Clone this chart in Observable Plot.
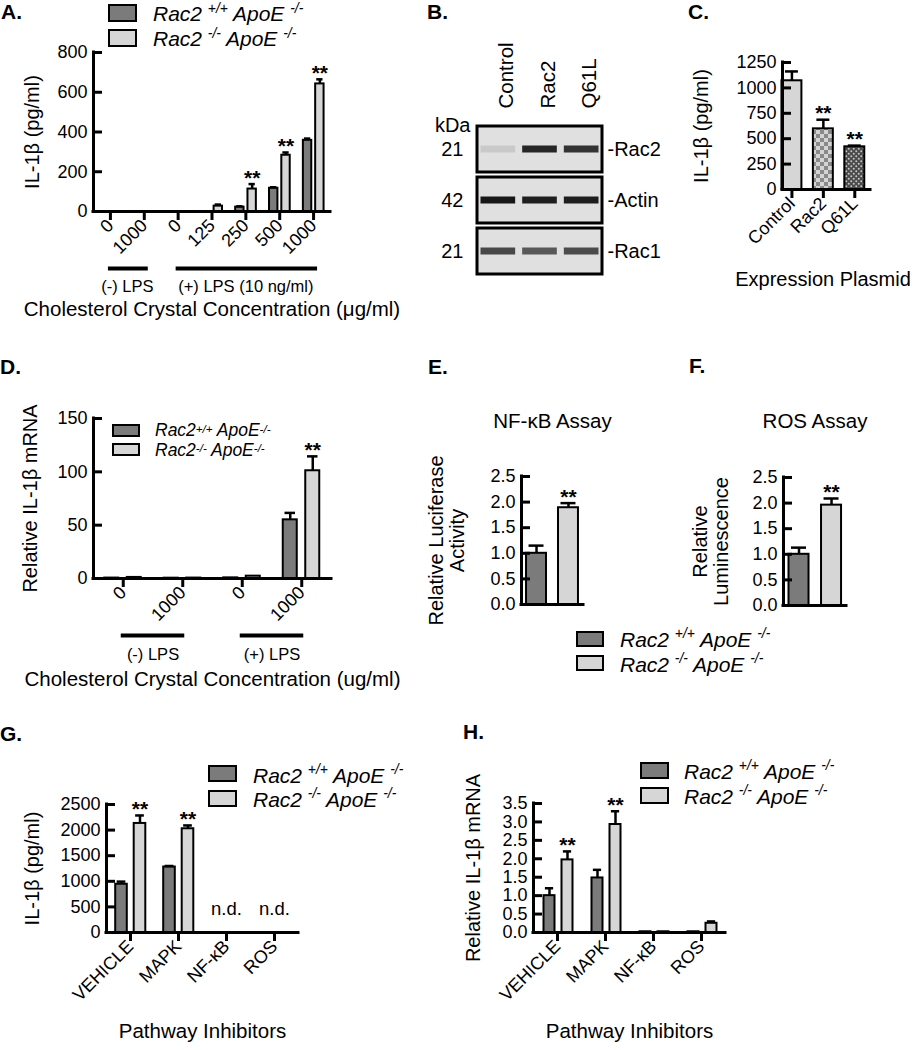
<!DOCTYPE html>
<html><head><meta charset="utf-8">
<script src="https://cdn.jsdelivr.net/npm/d3@7"></script>
<script src="https://cdn.jsdelivr.net/npm/@observablehq/plot@0.6"></script>
<style>
body{margin:0;background:#fff;}
#fig{position:relative;width:914px;height:1050px;font-family:"Liberation Sans",Arial,Helvetica,sans-serif;color:#000;overflow:hidden;background:#fff;}
.plab{position:absolute;font-weight:bold;font-size:21px;line-height:21px;white-space:nowrap;}
.sw{position:absolute;border:2.5px solid #000;box-sizing:border-box;}
.lt{position:absolute;font-style:italic;white-space:nowrap;}
.lt sup{font-size:0.66em;vertical-align:0;position:relative;line-height:0;}
</style></head><body><div id="fig"></div>
<script>
// ---------------- data ----------------
const seriesNames = ["Rac2 +/+ ApoE -/-", "Rac2 -/- ApoE -/-"];

// Panel A
const aCategories = ["0", "1000", "0", "125", "250", "500", "1000"];
const aGroups = [{label: "(-) LPS", from: 0, to: 1}, {label: "(+) LPS (10 ng/ml)", from: 2, to: 6}];
const aWT = [0, 0, 0, 0, 22, 117, 358];
const aWTErr = [0, 0, 0, 0, 4, 5, 9];
const aKO = [0, 0, 0, 27, 113, 283, 642];
const aKOErr = [0, 0, 0, 8, 25, 14, 23];
const aSig = [false, false, false, false, true, true, true];
const aTicks = [0, 200, 400, 600, 800];
const aYTitle = "IL-1β (pg/ml)";
const aXTitle = "Cholesterol Crystal Concentration (μg/ml)";

// Panel B (western blot)
const blotLanes = ["Control", "Rac2", "Q61L"];
const blotProteins = ["Rac2", "Actin", "Rac1"];
const blotKDa = ["21", "42", "21"];
const blotIntensity = [[0.1, 0.88, 0.82], [0.95, 0.92, 0.92], [0.72, 0.64, 0.7]];

// Panel C
const cPlasmids = ["Control", "Rac2", "Q61L"];
const cValues = [1070, 597, 420];
const cErr = [92, 90, 12];
const cSig = [false, true, true];
const cTicks = [0, 250, 500, 750, 1000, 1250];
const cXTitle = "Expression Plasmid";

// Panel D
const dCategories = ["0", "1000", "0", "1000"];
const dGroups = [{label: "(-) LPS", from: 0, to: 1}, {label: "(+) LPS", from: 2, to: 3}];
const dWT = [0.4, 0.3, 0.6, 55];
const dWTErr = [0, 0, 0, 6.5];
const dKO = [1.0, 0.4, 2.2, 101];
const dKOErr = [0, 0, 0, 13.5];
const dSig = [false, false, false, true];
const dTicks = [0, 50, 100, 150];
const dYTitle = "Relative IL-1β mRNA";
const dXTitle = "Cholesterol Crystal Concentration (ug/ml)";

// Panels E and F
const eValues = [1.0, 1.89];
const eErr = [0.15, 0.09];
const eSig = [false, true];
const fValues = [1.0, 1.96];
const fErr = [0.13, 0.13];
const fSig = [false, true];
const efTicks = [0, 0.5, 1.0, 1.5, 2.0, 2.5];
const eTitle = "NF-κB Assay";
const fTitle = "ROS Assay";
const eYTitle = "Relative Luciferase\nActivity";
const fYTitle = "Relative\nLuminescence";

// Panels G and H
const ghCategories = ["VEHICLE", "MAPK", "NF-κB", "ROS"];
const gWT = [942, 1279, 0, 0];
const gWTErr = [52, 20, 0, 0];
const gKO = [2130, 2026, 0, 0];
const gKOErr = [156, 65, 0, 0];
const gSig = [true, true, false, false];
const gND = [false, false, true, true];
const gTicks = [0, 500, 1000, 1500, 2000, 2500];
const hWT = [1.0, 1.48, 0.02, 0.02];
const hWTErr = [0.2, 0.22, 0, 0];
const hKO = [1.97, 2.93, 0.02, 0.25];
const hKOErr = [0.23, 0.36, 0, 0.05];
const hSig = [true, true, false, false];
const hTicks = [0, 0.5, 1.0, 1.5, 2.0, 2.5, 3.0, 3.5];
const ghXTitle = "Pathway Inhibitors";

// ---------------- helpers ----------------
const fig = document.getElementById("fig");
const FONT = '"Liberation Sans", Arial, Helvetica, sans-serif';
const DARK = "#7b7b7b", LIGHT = "#d6d6d6";
const TICKFS = 18;
const baseStyle = {fontFamily: FONT, fontSize: "18px", background: "transparent", overflow: "visible", color: "black"};
const intFmt = d => String(d);
const decFmt = d3.format(".1f");

function place(svg, left, top) {
  svg.style.position = "absolute";
  svg.style.left = left + "px";
  svg.style.top = top + "px";
  svg.style.overflow = "visible";
  svg.style.background = "transparent";
  svg.style.maxWidth = "none";
  fig.appendChild(svg);
  return svg;
}

function axesMarks(xMin, yTicks, yFmt) {
  return [
    Plot.ruleY(yTicks, {y: d => d, x1: xMin, x2: xMin, insetRight: -9, strokeWidth: 3}),
    Plot.ruleX([xMin], {strokeWidth: 3, strokeLinecap: "square"}),
    Plot.ruleY([0], {strokeWidth: 3, strokeLinecap: "square"}),
    Plot.axisY({ticks: yTicks, tickSize: 0, tickPadding: 6, tickFormat: yFmt, label: null, fontSize: TICKFS})
  ];
}

function xAxis(n, labels) {
  return Plot.axisX({ticks: d3.range(n), tickFormat: i => labels[i], tickRotate: -45, tickSize: 9, tickPadding: 2, strokeWidth: 3, label: null, fontSize: TICKFS});
}

function yTitleMark(text, dx) {
  return Plot.text([text], {frameAnchor: "left", rotate: -90, dx, textAnchor: "middle", lineAnchor: "middle", lineHeight: 1.05, text: d => d, fontSize: 20});
}

function seriesMarks({vals, errs, off, hw, fill, sig}) {
  const idx = d3.range(vals.length).filter(i => vals[i] > 0);
  const eIdx = idx.filter(i => errs[i] > 0);
  const cap = hw * 0.75;
  const m = [
    Plot.rect(idx, {x1: i => i + off - hw, x2: i => i + off + hw, y1: 0, y2: i => vals[i], fill, stroke: "black", strokeWidth: 2}),
    Plot.ruleX(eIdx, {x: i => i + off, y1: i => vals[i], y2: i => vals[i] + errs[i], strokeWidth: 2.5}),
    Plot.ruleY(eIdx, {y: i => vals[i] + errs[i], x1: i => i + off - cap, x2: i => i + off + cap, strokeWidth: 2.5})
  ];
  if (sig) m.push(Plot.text(idx.filter(i => sig[i]), {x: i => i + off, y: i => vals[i] + errs[i], dy: -6, text: () => "**", fontSize: 21, fontWeight: "bold"}));
  return m;
}

function legendMarkup(name, tight) {
  const toks = name.split(" ");
  let s = "";
  toks.forEach((t, k) => {
    const sup = /^[+-]\/[+-]$/.test(t);
    if (k > 0) s += (sup && tight) ? "" : " ";
    s += sup ? `<sup>${t}</sup>` : t;
  });
  return s;
}

function addLegend({x, y, w, h, pitch, textX, centers, fontSize, supRaise = 0.6, tight = false}) {
  seriesNames.forEach((name, k) => {
    const sw = document.createElement("div");
    sw.className = "sw";
    Object.assign(sw.style, {left: x + "px", top: (y + k * pitch) + "px", width: w + "px", height: h + "px", background: k === 0 ? DARK : LIGHT});
    fig.appendChild(sw);
    const t = document.createElement("div");
    t.className = "lt";
    t.innerHTML = legendMarkup(name, tight);
    t.querySelectorAll("sup").forEach(s => s.style.top = (-supRaise) + "em");
    Object.assign(t.style, {left: textX + "px", top: (centers[k] - 0.49 * fontSize) + "px", fontSize: fontSize + "px", lineHeight: fontSize + "px"});
    fig.appendChild(t);
  });
}

function panelLabel(text, left, baseline) {
  const d = document.createElement("div");
  d.className = "plab";
  d.textContent = text;
  d.style.left = left + "px";
  d.style.top = (baseline - 17.4) + "px";
  fig.appendChild(d);
}

// ---------------- Panel A ----------------
{
  const n = aCategories.length, step = 237 / n, u = px => px / step;
  place(Plot.plot({
    width: 340, height: 330, marginLeft: 93, marginRight: 10, marginTop: 52, marginBottom: 119,
    x: {domain: [-0.5, n - 0.5]}, y: {domain: [0, 800]},
    style: baseStyle,
    marks: [
      ...seriesMarks({vals: aWT, errs: aWTErr, off: u(-6), hw: u(4.2), fill: DARK}),
      ...seriesMarks({vals: aKO, errs: aKOErr, off: u(6.3), hw: u(4.2), fill: LIGHT, sig: aSig}),
      ...axesMarks(-0.5, aTicks, intFmt),
      xAxis(n, aCategories),
      Plot.ruleY(aGroups, {y: 0, x1: d => d.from, x2: d => d.to, dy: 57, strokeWidth: 4, insetLeft: -2, insetRight: -4}),
      Plot.text(aGroups, {x: d => (d.from + d.to) / 2, y: 0, dy: 75, text: "label", fontSize: 16.5}),
      yTitleMark(aYTitle, -61),
      Plot.text([aXTitle], {frameAnchor: "bottom", dy: 104, text: d => d, fontSize: 20.5})
    ]
  }), 0, 0);
}

// ---------------- Panel B ----------------
{
  const bands = [];
  blotProteins.forEach((p, r) => blotLanes.forEach((l, c) => bands.push({protein: p, lane: c, v: blotIntensity[r][c]})));
  const shade = d3.interpolateRgb("#dedede", "#0d0d0d");
  const svg = place(Plot.plot({
    width: 270, height: 260, marginLeft: 57, marginRight: 88, marginTop: 95, marginBottom: 15,
    x: {domain: [0, 3], axis: null},
    y: {type: "band", domain: blotProteins, paddingInner: 0.1, paddingOuter: 0, axis: null},
    color: {type: "identity"},
    style: baseStyle,
    marks: [
      Plot.barX(blotProteins, {x1: 0, x2: 3, y: d => d, fill: "#e0e0e0"}),
      Plot.barX(bands, {x1: d => d.lane, x2: d => d.lane + 1, y: "protein", insetLeft: 3.5, insetRight: 3.5, insetTop: 19.5, insetBottom: 19.5, fill: d => shade(d.v), ariaLabel: "blot-bands"}),
      Plot.barX(blotProteins, {x1: 0, x2: 3, y: d => d, fill: "none", stroke: "black", strokeWidth: 3}),
      Plot.axisY({anchor: "right", tickSize: 0, tickPadding: 5, tickFormat: d => "-" + d, fontSize: 20, label: null}),
      Plot.text(blotProteins, {y: d => d, frameAnchor: "left", dx: -14, textAnchor: "end", text: (d, i) => blotKDa[i], fontSize: 20}),
      Plot.text(["kDa"], {frameAnchor: "top-left", dx: -7, dy: -8, textAnchor: "end", text: d => d, fontSize: 20}),
      Plot.text(blotLanes, {x: (d, i) => i + 0.5, frameAnchor: "top", rotate: -90, textAnchor: "start", dy: -17, text: d => d, fontSize: 20.5})
    ]
  }), 420, 30);
  const g = svg.querySelector('g[aria-label="blot-bands"]');
  if (g) g.style.filter = "blur(1.6px)";
}

// ---------------- Panel C ----------------
{
  const step = 31.5, u = px => px / step;
  const fills = ["#d6d6d6", "url(#chkC)", "url(#dotC)"];
  const idx = d3.range(cPlasmids.length);
  const svg = place(Plot.plot({
    width: 274, height: 290, marginLeft: 142, marginRight: 44, marginTop: 32, marginBottom: 131,
    x: {domain: [-0.3, 2.5]}, y: {domain: [0, 1250]},
    color: {type: "identity"},
    style: baseStyle,
    marks: [
      Plot.rect(idx, {x1: i => i - u(10), x2: i => i + u(10), y1: 0, y2: i => cValues[i], fill: i => fills[i], stroke: "black", strokeWidth: 2}),
      Plot.ruleX(idx, {x: i => i, y1: i => cValues[i], y2: i => cValues[i] + cErr[i], strokeWidth: 2.5}),
      Plot.ruleY(idx, {y: i => cValues[i] + cErr[i], x1: i => i - u(6.5), x2: i => i + u(6.5), strokeWidth: 2.5}),
      Plot.text(idx.filter(i => cSig[i]), {x: i => i, y: i => cValues[i] + cErr[i], dy: -6, text: () => "**", fontSize: 21, fontWeight: "bold"}),
      ...axesMarks(-0.3, cTicks, intFmt),
      xAxis(cPlasmids.length, cPlasmids),
      yTitleMark(aYTitle, -81),
      Plot.text([cXTitle], {frameAnchor: "bottom", dy: 96, dx: -3.5, text: d => d, fontSize: 20})
    ]
  }), 640, 30);
  const defs = d3.select(svg).insert("defs", ":first-child");
  const chk = defs.append("pattern").attr("id", "chkC").attr("width", 8).attr("height", 8).attr("patternUnits", "userSpaceOnUse");
  chk.append("rect").attr("width", 8).attr("height", 8).attr("fill", "#d4d4d4");
  chk.append("rect").attr("width", 4).attr("height", 4).attr("fill", "#8a8a8a");
  chk.append("rect").attr("x", 4).attr("y", 4).attr("width", 4).attr("height", 4).attr("fill", "#8a8a8a");
  const dot = defs.append("pattern").attr("id", "dotC").attr("width", 5).attr("height", 5).attr("patternUnits", "userSpaceOnUse");
  dot.append("rect").attr("width", 5).attr("height", 5).attr("fill", "#4a4a4a");
  dot.append("circle").attr("cx", 1.25).attr("cy", 1.25).attr("r", 1).attr("fill", "#c4c4c4");
  dot.append("circle").attr("cx", 3.75).attr("cy", 3.75).attr("r", 1).attr("fill", "#c4c4c4");
}

// ---------------- Panel D ----------------
{
  const n = dCategories.length, step = 238 / n, u = px => px / step;
  place(Plot.plot({
    width: 345, height: 330, marginLeft: 93, marginRight: 14, marginTop: 38, marginBottom: 132,
    x: {domain: [-0.5, n - 0.5]}, y: {domain: [0, 150]},
    style: baseStyle,
    marks: [
      ...seriesMarks({vals: dWT, errs: dWTErr, off: u(-11.5), hw: u(7), fill: DARK}),
      ...seriesMarks({vals: dKO, errs: dKOErr, off: u(11), hw: u(7), fill: LIGHT, sig: dSig}),
      ...axesMarks(-0.5, dTicks, intFmt),
      xAxis(n, dCategories),
      Plot.ruleY(dGroups, {y: 0, x1: d => d.from, x2: d => d.to, dy: 57, strokeWidth: 4, insetLeft: -2, insetRight: -2}),
      Plot.text(dGroups, {x: d => (d.from + d.to) / 2, y: 0, dy: 76, text: "label", fontSize: 16.5}),
      yTitleMark(dYTitle, -63),
      Plot.text([dXTitle], {frameAnchor: "bottom", dy: 107, text: d => d, fontSize: 20.5})
    ]
  }), 0, 380);
}

// ---------------- Panels E & F ----------------
function smallPanel({vals, errs, sig, title, ytitle, left, top, width, mL, mR, mT, mB, domain, step, ydx, tdy}) {
  const u = px => px / step;
  place(Plot.plot({
    width, height: 240, marginLeft: mL, marginRight: mR, marginTop: mT, marginBottom: mB,
    x: {domain, axis: null}, y: {domain: [0, 2.5]},
    style: baseStyle,
    marks: [
      ...seriesMarks({vals: [vals[0], 0], errs: [errs[0], 0], off: 0, hw: u(10), fill: DARK}),
      ...seriesMarks({vals: [0, vals[1]], errs: [0, errs[1]], off: 0, hw: u(10), fill: LIGHT, sig}),
      ...axesMarks(domain[0], efTicks, decFmt),
      Plot.text([title], {frameAnchor: "top", dy: tdy, text: d => d, fontSize: 20.5}),
      yTitleMark(ytitle, ydx)
    ]
  }), left, top);
}
smallPanel({vals: eValues, errs: eErr, sig: eSig, title: eTitle, ytitle: eYTitle, left: 400, top: 380, width: 200,
  mL: 121, mR: 17, mT: 96, mB: 16, domain: [-0.47, 1.47], step: 32, ydx: -74.5, tdy: -63});
smallPanel({vals: fValues, errs: fErr, sig: fSig, title: fTitle, ytitle: fYTitle, left: 640, top: 380, width: 274,
  mL: 143, mR: 68, mT: 97, mB: 15, domain: [-0.477, 1.46], step: 32.5, ydx: -73, tdy: -64});

// ---------------- Panel G ----------------
{
  const n = ghCategories.length, step = 192 / n, u = px => px / step;
  place(Plot.plot({
    width: 320, height: 310, marginLeft: 106, marginRight: 22, marginTop: 64, marginBottom: 118,
    x: {domain: [-0.5, n - 0.5]}, y: {domain: [0, 2500]},
    style: baseStyle,
    marks: [
      ...seriesMarks({vals: gWT, errs: gWTErr, off: u(-9), hw: u(5.8), fill: DARK}),
      ...seriesMarks({vals: gKO, errs: gKOErr, off: u(9.5), hw: u(5.8), fill: LIGHT, sig: gSig}),
      ...axesMarks(-0.5, gTicks, intFmt),
      xAxis(n, ghCategories),
      Plot.text(d3.range(n).filter(i => gND[i]), {x: i => i, y: 0, dy: -23, text: () => "n.d.", fontSize: 18.5}),
      yTitleMark(aYTitle, -74),
      Plot.text([ghXTitle], {frameAnchor: "bottom", dy: 105, text: d => d, fontSize: 20.5})
    ]
  }), 0, 740);
}

// ---------------- Panel H ----------------
{
  const n = ghCategories.length, step = 192 / n, u = px => px / step;
  place(Plot.plot({
    width: 300, height: 310, marginLeft: 73, marginRight: 35, marginTop: 63, marginBottom: 118,
    x: {domain: [-0.5, n - 0.5]}, y: {domain: [0, 3.5]},
    style: baseStyle,
    marks: [
      ...seriesMarks({vals: hWT, errs: hWTErr, off: u(-8), hw: u(5.5), fill: DARK}),
      ...seriesMarks({vals: hKO, errs: hKOErr, off: u(10), hw: u(5.5), fill: LIGHT, sig: hSig}),
      ...axesMarks(-0.5, hTicks, decFmt),
      xAxis(n, ghCategories),
      yTitleMark(dYTitle, -60),
      Plot.text([ghXTitle], {frameAnchor: "bottom", dy: 105, text: d => d, fontSize: 20.5})
    ]
  }), 460, 740);
}

// ---------------- legends & labels ----------------
addLegend({x: 108, y: 4, w: 29, h: 18, pitch: 25, textX: 153, centers: [13.3, 38.5], fontSize: 21});
addLegend({x: 112, y: 424, w: 28, h: 13, pitch: 19, textX: 155, centers: [430.8, 450.2], fontSize: 17.5, supRaise: 0.32, tight: true});
addLegend({x: 576, y: 631, w: 28, h: 16, pitch: 24, textX: 620, centers: [639, 664], fontSize: 21});
addLegend({x: 208, y: 765, w: 29, h: 17, pitch: 25, textX: 253, centers: [775, 799], fontSize: 21});
addLegend({x: 640, y: 762, w: 29, h: 17, pitch: 25, textX: 684, centers: [771, 796], fontSize: 21});

panelLabel("A.", 1, 18);
panelLabel("B.", 427, 18);
panelLabel("C.", 688, 18);
panelLabel("D.", 0, 373);
panelLabel("E.", 428, 373);
panelLabel("F.", 689, 372);
panelLabel("G.", 0, 740);
panelLabel("H.", 463, 738);
</script></body></html>
